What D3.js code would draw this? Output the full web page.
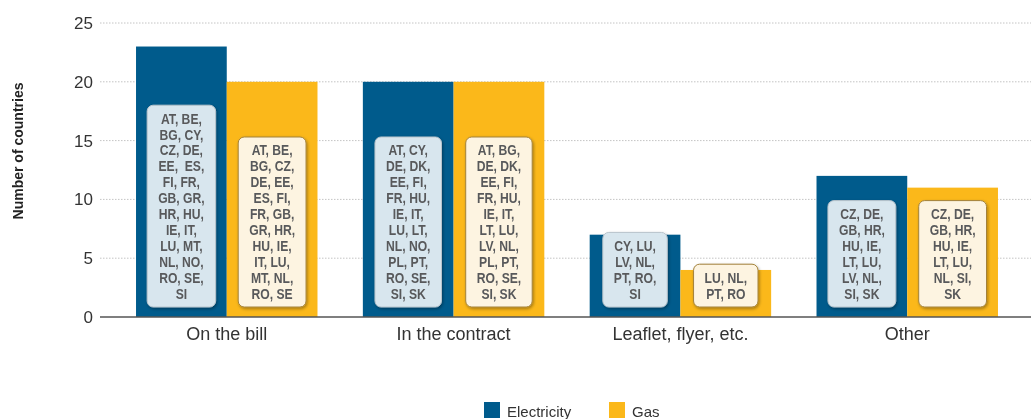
<!DOCTYPE html>
<html>
  <head>
    <meta charset="utf-8">
    <title></title>
    <style type="text/css">
        html, body{
            padding: 0px;
            margin: 0px;
            background: #fff;
            font-family: "Liberation Sans", Arial, sans-serif;
        }
        #vis{
            position: fixed;
            top: 0px;
            left: 0px;
        }
        .grid line{
            stroke: #c4c4c4;
            stroke-dasharray: 1.5,1.5;
        }
        .tick-label{
            font-size: 17px;
            fill: #333;
        }
        .cat-label{
            font-size: 18px;
            fill: #333;
        }
        .box-text{
            font-weight: bold;
            font-size: 15px;
            fill: #58595b;
        }
    </style>
  </head>
  <body>
    <div id="vis"></div>
    <script src="https://cdnjs.cloudflare.com/ajax/libs/d3/7.8.5/d3.min.js"></script>
    <script type="text/javascript">

        var categories = ["On the bill", "In the contract", "Leaflet, flyer, etc.", "Other"];
        var seriesNames = ["Electricity", "Gas"];
        var electricity = [23, 20, 7, 12];
        var gas = [20, 20, 4, 11];
        var yTicks = [0, 5, 10, 15, 20, 25];

        var electricityCountries = [
            ["AT, BE,", "BG, CY,", "CZ, DE,", "EE,  ES,", "FI, FR,", "GB, GR,", "HR, HU,", "IE, IT,", "LU, MT,", "NL, NO,", "RO, SE,", "SI"],
            ["AT, CY,", "DE, DK,", "EE, FI,", "FR, HU,", "IE, IT,", "LU, LT,", "NL, NO,", "PL, PT,", "RO, SE,", "SI, SK"],
            ["CY, LU,", "LV, NL,", "PT, RO,", "SI"],
            ["CZ, DE,", "GB, HR,", "HU, IE,", "LT, LU,", "LV, NL,", "SI, SK"]
        ];
        var gasCountries = [
            ["AT, BE,", "BG, CZ,", "DE, EE,", "ES, FI,", "FR, GB,", "GR, HR,", "HU, IE,", "IT, LU,", "MT, NL,", "RO, SE"],
            ["AT, BG,", "DE, DK,", "EE, FI,", "FR, HU,", "IE, IT,", "LT, LU,", "LV, NL,", "PL, PT,", "RO, SE,", "SI, SK"],
            ["LU, NL,", "PT, RO"],
            ["CZ, DE,", "GB, HR,", "HU, IE,", "LT, LU,", "NL, SI,", "SK"]
        ];

        var colors = ["#005b8c", "#fbb81a"];
        var boxFill = ["#d8e6ee", "#fdf4e1"];
        var boxStroke = ["#b9c4cc", "#a3823a"];

        var width = 1031,
            height = 419;

        var svg = d3.select("#vis").append("svg")
            .attr("width", width)
            .attr("height", height);

        var defs = svg.append("defs");
        var shadow = defs.append("filter")
            .attr("id", "shadow")
            .attr("x", "-20%").attr("y", "-20%")
            .attr("width", "140%").attr("height", "140%");
        shadow.append("feDropShadow")
            .attr("dx", 1).attr("dy", 1.5)
            .attr("stdDeviation", 1.5)
            .attr("flood-color", "#000")
            .attr("flood-opacity", 0.35);

        var x0 = d3.scaleBand()
            .domain(categories)
            .range([102, 1032])
            .paddingInner(0.2)
            .paddingOuter(0.15);

        var x1 = d3.scaleBand()
            .domain(seriesNames)
            .range([0, x0.bandwidth()]);

        var y = d3.scaleLinear()
            .domain([0, 25])
            .range([317, 23]);

        // grid
        var grid = svg.append("g").attr("class", "grid");
        grid.selectAll("line")
            .data(yTicks.filter(d => d > 0))
            .enter().append("line")
            .attr("x1", 100).attr("x2", width)
            .attr("y1", d => y(d)).attr("y2", d => y(d));

        svg.append("g").selectAll("text")
            .data(yTicks)
            .enter().append("text")
            .attr("class", "tick-label")
            .attr("x", 93)
            .attr("y", d => y(d))
            .attr("dy", "0.35em")
            .attr("text-anchor", "end")
            .text(d => d);

        svg.append("text")
            .attr("transform", "translate(23," + 151 + ") rotate(-90)")
            .attr("text-anchor", "middle")
            .style("font-size", "14px")
            .style("font-weight", "bold")
            .style("fill", "#222")
            .text("Number of countries");

        // bars
        var rows = categories.map((c, i) => ({
            cat: c,
            values: [
                {s: 0, v: electricity[i], lines: electricityCountries[i]},
                {s: 1, v: gas[i], lines: gasCountries[i]}
            ]
        }));

        var groups = svg.append("g").selectAll("g")
            .data(rows)
            .enter().append("g")
            .attr("transform", d => "translate(" + x0(d.cat) + ",0)");

        groups.selectAll("rect")
            .data(d => d.values)
            .enter().append("rect")
            .attr("x", d => x1(seriesNames[d.s]))
            .attr("y", d => y(d.v))
            .attr("width", x1.bandwidth())
            .attr("height", d => y(0) - y(d.v))
            .attr("fill", d => colors[d.s]);

        // callout boxes with country codes (narrowed text)
        var lineH = 15.9, squeeze = 0.81;
        groups.each(function(row){
            var g = d3.select(this);
            row.values.forEach(function(d){
                var cx = x1(seriesNames[d.s]) + x1.bandwidth() / 2;
                var box = g.append("g");
                var rect = box.append("rect");
                var bottom = y(0) - 10;
                var h = d.lines.length * lineH + 11;
                var top = bottom - h;
                var txt = box.append("text")
                    .attr("class", "box-text")
                    .attr("text-anchor", "middle")
                    .attr("transform", "translate(" + cx + ",0) scale(" + squeeze + ",1)");
                d.lines.forEach(function(l, k){
                    txt.append("tspan")
                        .attr("x", 0)
                        .attr("y", top + 6 + lineH * k + 12.5)
                        .style("white-space", "pre")
                        .text(l);
                });
                var w = txt.node().getBBox().width * squeeze + 22;
                rect.attr("x", cx - w / 2)
                    .attr("y", top)
                    .attr("width", w)
                    .attr("height", h)
                    .attr("rx", 6)
                    .attr("fill", boxFill[d.s])
                    .attr("stroke", boxStroke[d.s])
                    .attr("stroke-width", 1)
                    .attr("filter", "url(#shadow)");
            });
        });

        // baseline
        svg.append("line")
            .attr("x1", 100).attr("x2", width)
            .attr("y1", y(0)).attr("y2", y(0))
            .attr("stroke", "#555")
            .attr("stroke-width", 1.5);

        svg.append("g").selectAll("text")
            .data(categories)
            .enter().append("text")
            .attr("class", "cat-label")
            .attr("x", d => x0(d) + x0.bandwidth() / 2)
            .attr("y", 340)
            .attr("text-anchor", "middle")
            .text(d => d);

        // legend
        var legend = svg.append("g").selectAll("g")
            .data(seriesNames)
            .enter().append("g")
            .attr("transform", (d, i) => "translate(" + (484 + i * 125) + ",402)");
        legend.append("rect")
            .attr("width", 16).attr("height", 16)
            .attr("fill", (d, i) => colors[i]);
        legend.append("text")
            .attr("x", 23).attr("y", 15)
            .style("font-size", "15px")
            .style("fill", "#333")
            .text(d => d);

    </script>
  </body>
</html>
